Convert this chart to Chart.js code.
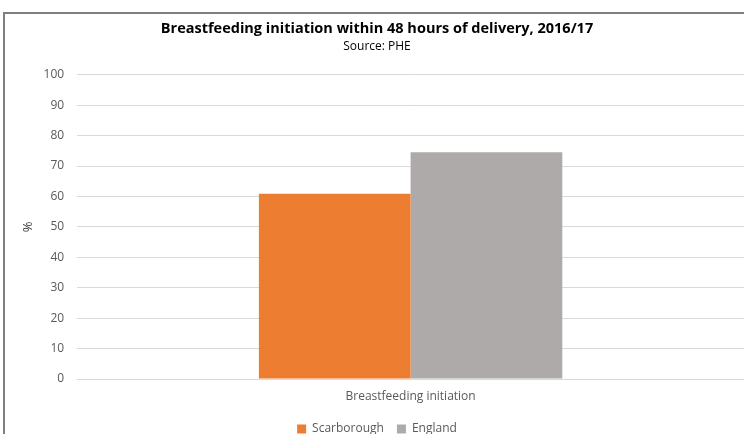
<!DOCTYPE html>
<html>
<head>
<meta charset="utf-8">
<script src="https://cdn.jsdelivr.net/npm/chart.js@4"></script>
<style>
  html, body { margin: 0; padding: 0; background: #fff; overflow: hidden; }
  #wrap { position: relative; width: 744px; height: 434px; }
</style>
</head>
<body>
<div id="wrap"><canvas id="chart" width="744" height="434"></canvas></div>
<script>
// ── Data ─────────────────────────────────────────────────────────────────────

const CATEGORIES = ['Breastfeeding initiation'];
const SERIES_NAMES = ['Scarborough', 'England'];
const SCARBOROUGH = [60.9];
const ENGLAND = [74.5];

const ORANGE = '#ED7D31';
const GRAY = '#AEAAAA';
const TEXT = '#595959';
const GRID = '#D9D9D9';
const FONT = 'Open Sans';

// Frame lines like the original spreadsheet export
const framePlugin = {
    id: 'frame',
    beforeDraw(chart) {
        const ctx = chart.ctx;
        ctx.save();
        ctx.fillStyle = '#fff';
        ctx.fillRect(0, 0, chart.width, chart.height);
        ctx.strokeStyle = '#7F7F7F';
        ctx.lineWidth = 2;
        ctx.beginPath();
        ctx.moveTo(4, chart.height);
        ctx.lineTo(4, 13);
        ctx.lineTo(chart.width, 13);
        ctx.stroke();
        ctx.restore();
    }
};

new Chart(document.getElementById('chart'), {
    type: 'bar',
    data: {
        labels: CATEGORIES,
        datasets: [
            { label: SERIES_NAMES[0], data: SCARBOROUGH, backgroundColor: ORANGE },
            { label: SERIES_NAMES[1], data: ENGLAND, backgroundColor: GRAY }
        ]
    },
    options: {
        responsive: false,
        animation: false,
        layout: { padding: { top: 20, left: 10, right: 0, bottom: -11 } },
        categoryPercentage: 0.455,
        barPercentage: 1,
        plugins: {
            title: {
                display: true,
                text: 'Breastfeeding initiation within 48 hours of delivery, 2016/17',
                color: '#000',
                font: { family: FONT, size: 14.5, weight: 'bold' },
                padding: { top: 0, bottom: 2 }
            },
            subtitle: {
                display: true,
                text: 'Source: PHE',
                color: '#000',
                font: { family: FONT, size: 12 },
                padding: { top: 0, bottom: 21 }
            },
            legend: {
                position: 'bottom',
                labels: {
                    color: TEXT,
                    font: { family: FONT, size: 12 },
                    boxWidth: 9,
                    boxHeight: 9,
                    padding: 13
                }
            },
            tooltip: { enabled: false }
        },
        scales: {
            x: {
                grid: { display: false, drawTicks: false },
                border: { color: GRID },
                ticks: { color: TEXT, font: { family: FONT, size: 12 }, padding: 10 },
                afterFit: scale => { scale.height = 31; }
            },
            y: {
                min: 0,
                max: 100,
                ticks: { stepSize: 10, color: TEXT, font: { family: FONT, size: 12 }, padding: 13 },
                grid: { color: GRID, drawTicks: false },
                border: { display: false },
                title: {
                    display: true,
                    text: '%',
                    color: '#404040',
                    font: { family: FONT, size: 13 },
                    padding: { top: 10, bottom: -5 }
                }
            }
        }
    },
    plugins: [framePlugin]
});
</script>
</body>
</html>
